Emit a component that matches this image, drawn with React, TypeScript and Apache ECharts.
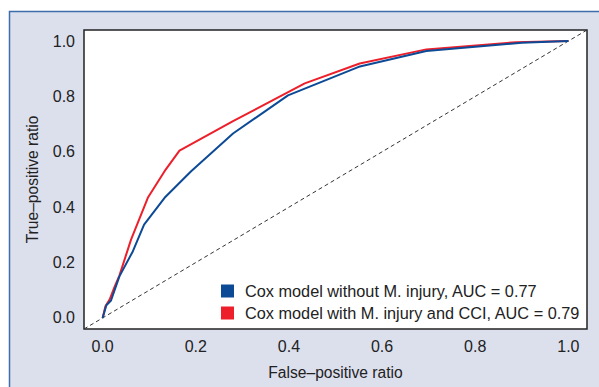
import React, { useEffect, useRef } from "react";
import * as echarts from "echarts";

const tickValues = [0, 0.2, 0.4, 0.6, 0.8, 1.0];
const axisMin = -0.04;
const axisMax = 1.04;

const blueName = "Cox model without M. injury, AUC = 0.77";
const redName = "Cox model with M. injury and CCI, AUC = 0.79";

const blueFpr = [0, 0.008, 0.018, 0.036, 0.065, 0.089, 0.133, 0.19, 0.28, 0.398, 0.55, 0.695, 0.9, 1.0];
const blueTpr = [0, 0.046, 0.063, 0.15, 0.241, 0.337, 0.434, 0.53, 0.666, 0.804, 0.907, 0.964, 0.994, 1.0];

const redFpr = [0, 0.006, 0.015, 0.026, 0.036, 0.061, 0.097, 0.133, 0.165, 0.28, 0.434, 0.552, 0.695, 0.888, 1.0];
const redTpr = [0, 0.042, 0.066, 0.114, 0.153, 0.283, 0.434, 0.53, 0.604, 0.711, 0.847, 0.919, 0.97, 0.996, 1.0];

const refLine = [axisMin, axisMax];

const FONT = "'Liberation Sans', Arial, sans-serif";
const BLUE = "#0c4a96";
const RED = "#ec1f2b";

export default function App() {
  const ref = useRef<HTMLDivElement>(null);
  useEffect(() => {
    if (!ref.current) return;
    const chart = echarts.init(ref.current, null, { renderer: "svg" });
    const zip = (xs: number[], ys: number[]) => xs.map((x, i) => [x, ys[i]]);
    chart.setOption({
      animation: false,
      graphic: [
        {
          type: "rect",
          z: -10,
          silent: true,
          shape: { x: 9.5, y: 11.5, width: 600, height: 400 },
          style: { fill: "#dce0ed", stroke: "#3d6eab", lineWidth: 1.5 },
        },
      ],
      grid: {
        left: 84,
        top: 30,
        right: 12,
        bottom: 58,
        show: true,
        backgroundColor: "#ffffff",
        borderColor: "#222222",
        borderWidth: 1.5,
        z: 1,
      },
      legend: {
        orient: "vertical",
        left: 221,
        top: 283,
        itemWidth: 13,
        itemHeight: 13,
        itemGap: 6,
        icon: "rect",
        padding: 0,
        textStyle: { fontFamily: FONT, fontSize: 16.3, color: "#222", padding: [0, 0, 0, 6] },
        data: [
          { name: blueName, itemStyle: { color: BLUE } },
          { name: redName, itemStyle: { color: RED } },
        ],
      },
      xAxis: {
        type: "value",
        min: axisMin,
        max: axisMax,
        name: "False\u2013positive ratio",
        nameLocation: "middle",
        nameGap: 35,
        nameTextStyle: { fontFamily: FONT, fontSize: 15.6, color: "#222" },
        splitLine: { show: false },
        axisLine: { show: false },
        axisTick: { show: true, length: 6, customValues: tickValues, lineStyle: { color: "#222", width: 1.5 } },
        axisLabel: {
          customValues: tickValues,
          margin: 9,
          fontFamily: FONT,
          fontSize: 16,
          color: "#222",
          formatter: (v: number) => v.toFixed(1),
        },
      },
      yAxis: {
        type: "value",
        min: axisMin,
        max: axisMax,
        name: "True\u2013positive ratio",
        nameLocation: "middle",
        nameGap: 44,
        nameTextStyle: { fontFamily: FONT, fontSize: 15.6, color: "#222" },
        splitLine: { show: false },
        axisLine: { show: false },
        axisTick: { show: true, length: 6, customValues: tickValues, lineStyle: { color: "#222", width: 1.5 } },
        axisLabel: {
          customValues: tickValues,
          margin: 9,
          fontFamily: FONT,
          fontSize: 16,
          color: "#222",
          formatter: (v: number) => v.toFixed(1),
        },
      },
      series: [
        {
          type: "line",
          name: "reference",
          data: [[refLine[0], refLine[0]], [refLine[1], refLine[1]]],
          symbol: "none",
          lineStyle: { color: "#333", width: 1, type: [4, 3] },
          silent: true,
          z: 2,
        },
        {
          type: "line",
          name: redName,
          data: zip(redFpr, redTpr),
          symbol: "none",
          color: RED,
          lineStyle: { color: RED, width: 2 },
          z: 3,
        },
        {
          type: "line",
          name: blueName,
          data: zip(blueFpr, blueTpr),
          symbol: "none",
          color: BLUE,
          lineStyle: { color: BLUE, width: 2 },
          z: 4,
        },
      ],
    });
    return () => chart.dispose();
  }, []);
  return (
    <div
      ref={ref}
      style={{ position: "absolute", left: 0, top: 0, width: 599, height: 387 }}
    />
  );
}
